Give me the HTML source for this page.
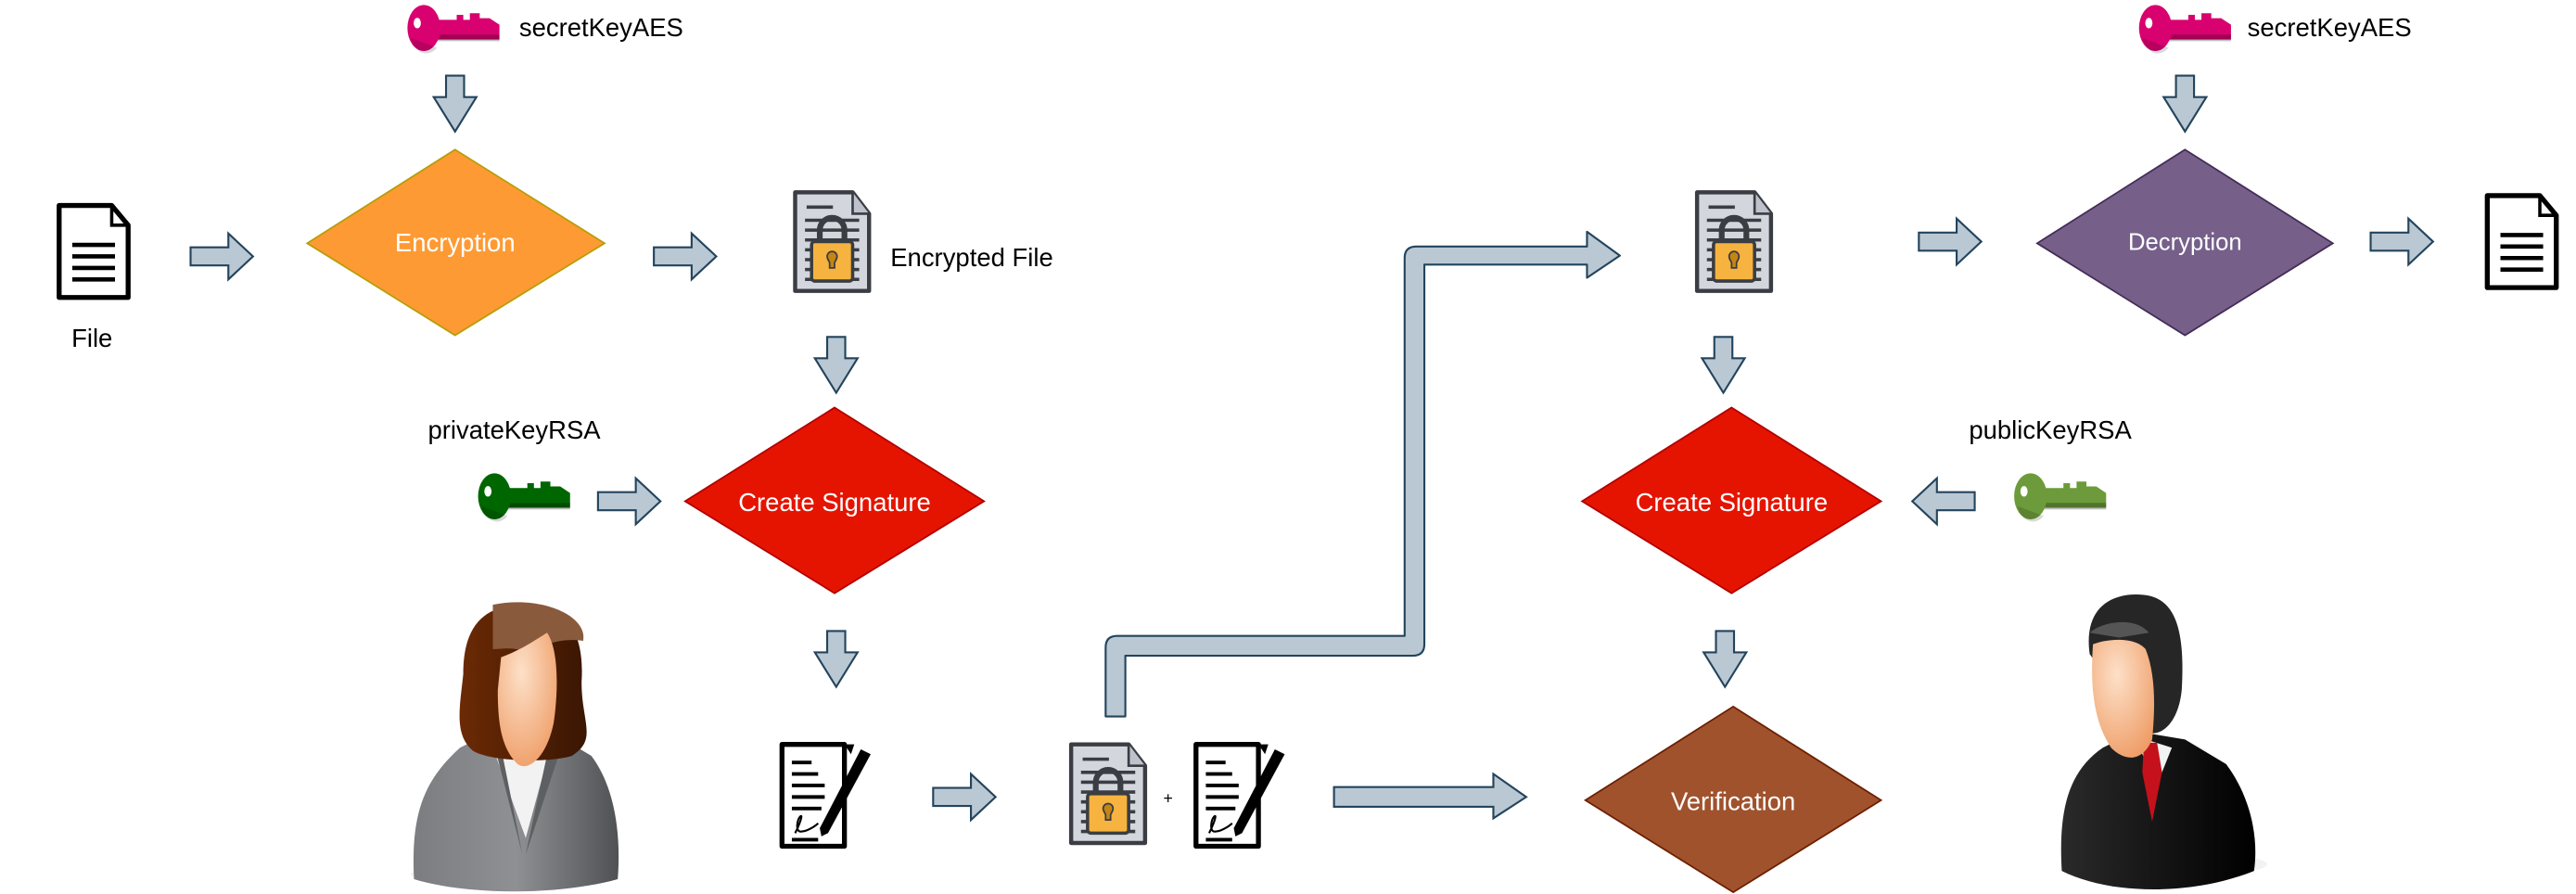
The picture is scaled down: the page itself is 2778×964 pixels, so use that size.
<!DOCTYPE html>
<html><head><meta charset="utf-8"><style>
html,body{margin:0;padding:0;background:#fff;}
svg{display:block;}
text{font-family:"Liberation Sans",Arial,sans-serif;}
</style></head><body>
<svg width="2778" height="964" viewBox="0 0 1568 544" xmlns="http://www.w3.org/2000/svg">
<defs>
<g id="ar"><polygon points="0,-5.5 23,-5.5 23,-14 38,0 23,14 23,5.5 0,5.5" fill="#bac8d3" stroke="#23445d" stroke-width="1.2"/></g>
<g id="ad"><polygon points="-5.5,0 5.5,0 5.5,13 13,13 0,34 -13,13 -5.5,13" fill="#bac8d3" stroke="#23445d" stroke-width="1.2"/></g>
<g id="doc">
<path d="M2,2 H34 L44,14 V58 H2 Z" fill="#fff" stroke="#000" stroke-width="3" stroke-linejoin="round"/>
<path d="M34,2 V14 H44" fill="none" stroke="#000" stroke-width="2"/>
<g stroke="#000" stroke-width="2.6"><line x1="10" y1="26" x2="36" y2="26"/><line x1="10" y1="33" x2="36" y2="33"/><line x1="10" y1="40" x2="36" y2="40"/><line x1="10" y1="47" x2="36" y2="47"/></g>
</g>
<g id="edoc">
<path d="M1,1 H36 L46,14 V61 H1 Z" fill="#d4d6de" stroke="#3a3d42" stroke-width="2.5" stroke-linejoin="round"/>
<path d="M36,1 V14 H46" fill="#bfc2cc" stroke="#3a3d42" stroke-width="1.5"/>
<g stroke="#3a3d42" stroke-width="2"><line x1="8" y1="10" x2="24" y2="10"/><line x1="7" y1="18" x2="40" y2="18"/><line x1="7" y1="24" x2="40" y2="24"/><line x1="7" y1="30" x2="40" y2="30"/><line x1="7" y1="36" x2="40" y2="36"/><line x1="7" y1="42" x2="40" y2="42"/><line x1="7" y1="48" x2="40" y2="48"/><line x1="7" y1="54" x2="40" y2="54"/></g>
<path d="M16,32 V24 a7.5,7.5 0 0 1 15,0 V32" fill="none" stroke="#3a3d42" stroke-width="3.5"/>
<rect x="11" y="31" width="25" height="24" rx="2" fill="#f6b33f" stroke="#3a3d42" stroke-width="2"/>
<path d="M23.5,37 a3,3 0 0 1 3,3 c0,2 -1.5,3 -1.5,4 v3 h-3 v-3 c0,-1 -1.5,-2 -1.5,-4 a3,3 0 0 1 3,-3z" fill="#c58515" stroke="#3a3d42" stroke-width="1"/>
</g>
<g id="sdoc">
<path d="M2,2 H40 V64 H2 Z" fill="#fff" stroke="#000" stroke-width="3" stroke-linejoin="round"/>
<g stroke="#000" stroke-width="2.2"><line x1="8" y1="13" x2="20" y2="13"/><line x1="8" y1="20" x2="24" y2="20"/><line x1="8" y1="27" x2="28" y2="27"/><line x1="8" y1="34" x2="28" y2="34"/><line x1="8" y1="41" x2="26" y2="41"/><line x1="8" y1="60" x2="24" y2="60"/></g>
<path d="M50,5 L56,8 L30,56 L26,58 L25,53 Z" fill="#000"/>
<path d="M40,2 L46,2 L44,8 Z" fill="#000"/>
<path d="M10,56 c3,-6 5,-12 3,-10 c-2,2 -3,10 1,9 c3,0 8,-3 10,-5" fill="none" stroke="#000" stroke-width="1.2"/>
</g>
<g id="key">
<path d="M12,9 H30 V6 H34 V9 H38 V5 H44 V8 H50 L56,12 V21 H12 Z" fill="currentColor"/>
<rect x="12" y="18" width="44" height="4" fill="#000" opacity="0.25"/>
<ellipse cx="10" cy="14" rx="10" ry="14" fill="currentColor"/>
<path d="M2,20 a10,14 0 0 0 16,6 z" fill="#000" opacity="0.15"/>
<ellipse cx="6" cy="11" rx="2.2" ry="3.2" fill="#fff"/>
</g>
</defs>

<use href="#key" x="248" y="3" style="color:#d9006f"/>
<text x="316" y="22" font-size="15.5">secretKeyAES</text>
<use href="#ad" transform="translate(277,46)"/>
<polygon points="277,91 368,148 277,204 187,148" fill="#fe9a33" stroke="#b69e09" stroke-width="1"/>
<text x="277" y="153" font-size="15.5" fill="#fff" text-anchor="middle">Encryption</text>
<use href="#doc" x="34" y="123"/>
<text x="56" y="211" font-size="15.5" text-anchor="middle">File</text>
<use href="#ar" x="116" y="156"/>
<use href="#ar" x="398" y="156"/>
<use href="#edoc" x="483" y="116"/>
<text x="542" y="162" font-size="15.5">Encrypted File</text>
<use href="#ad" transform="translate(509,205)"/>

<text x="313" y="267" font-size="15.5" text-anchor="middle">privateKeyRSA</text>
<use href="#key" x="291" y="288" style="color:#006600"/>
<use href="#ar" x="364" y="305"/>
<polygon points="508,248 599,305 508,361 417,305" fill="#e51400" stroke="#b20000" stroke-width="1"/>
<text x="508" y="311" font-size="15.5" fill="#fff" text-anchor="middle">Create Signature</text>
<use href="#ad" transform="translate(509,384)"/>

<defs>
<radialGradient id="face" cx="0.4" cy="0.3" r="0.8"><stop offset="0" stop-color="#fde0c8"/><stop offset="1" stop-color="#ee9a62"/></radialGradient>
<linearGradient id="suitG" x1="0" x2="1"><stop offset="0" stop-color="#7b7d80"/><stop offset="0.5" stop-color="#8e9093"/><stop offset="1" stop-color="#4f5154"/></linearGradient>
<linearGradient id="hairW" x1="0" x2="1"><stop offset="0" stop-color="#6b2a05"/><stop offset="1" stop-color="#3a1603"/></linearGradient>
<linearGradient id="suitM" x1="0" x2="1"><stop offset="0" stop-color="#2a2a2a"/><stop offset="0.5" stop-color="#151515"/><stop offset="1" stop-color="#000"/></linearGradient>
</defs>
<ellipse cx="310" cy="532" rx="60" ry="7" fill="#e6e6e6" opacity="0.5"/>
<path d="M252,535 C250,495 258,475 280,455 L300,445 L335,445 L360,460 C375,480 378,510 376,535 C340,545 285,545 252,535 Z" fill="url(#suitG)"/>
<path d="M300,455 L320,510 L335,455 Z" fill="#f2f2f2"/>
<path d="M300,450 L318,520 L305,455 Z M335,450 L320,520 L340,460 Z" fill="#5d5f62"/>
<path d="M282,410 C282,375 300,368 320,368 C345,368 356,385 354,415 C354,440 364,450 348,460 C335,464 300,464 288,457 C276,447 280,430 282,410 Z" fill="url(#hairW)"/>
<path d="M300,368 C330,362 358,375 355,390 C342,388 330,392 322,398 C315,393 305,395 300,395 Z" fill="#8a5a3c"/>
<path d="M305,400 C318,395 325,390 333,385 C340,395 340,420 337,440 C333,460 322,470 315,465 C305,455 303,440 303,420 Z" fill="url(#face)"/>

<use href="#sdoc" x="474" y="451"/>
<use href="#ar" x="568" y="485"/>
<use href="#edoc" x="651" y="452"/>
<text x="711" y="489" font-size="10" text-anchor="middle">+</text>
<use href="#sdoc" x="726" y="451"/>

<path d="M673,436 V394 Q673,387 680,387 H855 V157 Q855,150 862,150 H966 V141 L986,155.5 L966,169 V161 H867 V392 Q867,399 860,399 H685 V436 Z" fill="#bac8d3" stroke="#23445d" stroke-width="1.2" stroke-linejoin="round"/>

<polygon points="812,479 909,479 909,471 929,485 909,498 909,491 812,491" fill="#bac8d3" stroke="#23445d" stroke-width="1.2"/>

<use href="#edoc" x="1032" y="116"/>
<use href="#ad" transform="translate(1049,205)"/>
<use href="#ar" x="1168" y="147"/>
<polygon points="1330,91 1420,148 1330,204 1240,148" fill="#76608a" stroke="#432d57" stroke-width="1"/>
<text x="1330" y="152" font-size="14.5" fill="#fff" text-anchor="middle">Decryption</text>
<use href="#ar" x="1443" y="147"/>
<use href="#doc" x="1512" y="117"/>
<use href="#key" x="1302" y="3" style="color:#d9006f"/>
<text x="1368" y="22" font-size="15.5">secretKeyAES</text>
<use href="#ad" transform="translate(1330,46)"/>

<polygon points="1054,248 1145,305 1054,361 963,305" fill="#e51400" stroke="#b20000" stroke-width="1"/>
<text x="1054" y="311" font-size="15.5" fill="#fff" text-anchor="middle">Create Signature</text>
<use href="#ar" transform="translate(1202,305) scale(-1,1)"/>
<text x="1248" y="267" font-size="15.5" text-anchor="middle">publicKeyRSA</text>
<use href="#key" x="1226" y="288" style="color:#6d9b3b"/>
<use href="#ad" transform="translate(1050,384)"/>
<polygon points="1055,430 1145,487 1055,543 965,487" fill="#a0522d" stroke="#6d1f00" stroke-width="1"/>
<text x="1055" y="493" font-size="15.5" fill="#fff" text-anchor="middle">Verification</text>

<ellipse cx="1330" cy="526" rx="50" ry="7" fill="#e6e6e6" opacity="0.5"/>
<path d="M1255,530 C1253,495 1258,470 1280,455 L1300,445 L1330,450 L1355,465 C1370,485 1375,510 1372,530 C1335,545 1285,545 1255,530 Z" fill="url(#suitM)"/>
<path d="M1300,448 L1312,480 L1322,455 Z" fill="#f2f2f2"/>
<path d="M1305,452 L1313,452 L1316,470 L1310,500 L1304,470 Z" fill="#c4111b"/>
<path d="M1272,398 C1268,370 1285,360 1305,362 C1325,364 1330,385 1328,420 C1326,440 1315,450 1305,445 Z" fill="#262626"/>
<path d="M1272,385 C1280,378 1300,375 1308,385 L1290,388 Z" fill="#555"/>
<path d="M1274,392 C1285,388 1300,388 1306,395 C1312,410 1312,430 1310,450 C1305,462 1295,465 1285,455 C1275,440 1272,420 1274,392 Z" fill="url(#face)"/>
</svg>
</body></html>
